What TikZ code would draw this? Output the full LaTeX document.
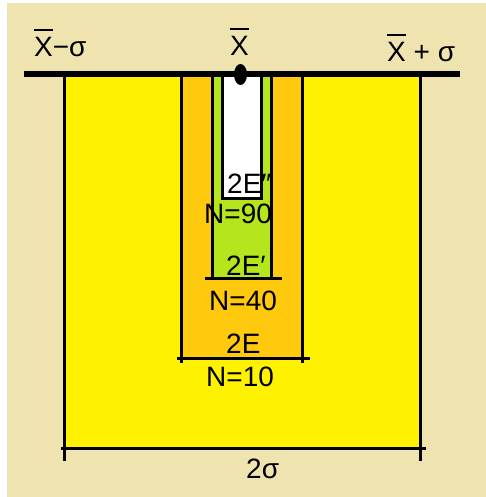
\documentclass[tikz,border=0pt]{standalone}
\usepackage{fontspec}
\setmainfont{Liberation Sans}
\definecolor{tanbg}{HTML}{EFE4B0}
\definecolor{yel}{HTML}{FFF200}
\definecolor{ora}{HTML}{FFC90E}
\definecolor{lime}{HTML}{B5E61D}
\newcommand\xbar{\leavevmode\vbox{\hrule height 2pt\kern 7pt\hbox{X}}}
\tikzset{
  lbl/.style={anchor=base west, inner sep=0pt, font=\fontsize{28}{30}\selectfont},
  edge/.style={line width=3pt, black},
  axis/.style={line width=5.5pt, black}
}
\begin{document}
\begin{tikzpicture}[x=1pt,y=-1pt]
\useasboundingbox (0,0) rectangle (486,497);
\fill[white] (0,0) rectangle (486,497);
\fill[tanbg] (7,3) rectangle (486,497);
% bands
\fill[yel] (64,74) rectangle (420,448);
\fill[ora] (181.5,74) rectangle (302.5,358);
\fill[lime] (212.5,74) rectangle (271.5,278);
\fill[white] (222.5,74) rectangle (261,198);
% yellow band edges
\draw[edge] (64,74) -- (64,461);
\draw[edge] (420,74) -- (420,461);
\draw[edge] (61,448.5) -- (426,448.5);
% orange band edges
\draw[edge] (181.5,74) -- (181.5,363);
\draw[edge] (302.5,74) -- (302.5,363);
\draw[edge] (177,358.5) -- (310,358.5);
% green band edges
\draw[edge] (212.5,74) -- (212.5,280);
\draw[edge] (271.5,74) -- (271.5,280);
\draw[edge] (205,278.5) -- (282,278.5);
% white band edges
\draw[edge] (222.5,74) -- (222.5,199.5);
\draw[edge] (261,74) -- (261,199.5);
\draw[edge] (221,198) -- (262.5,198);
% axis line and mean dot
\coordinate (axl) at (24,74);
\coordinate (axr) at (460,74);
\draw[axis] (axl) -- (axr);
\fill[black] (240.5,74.5) ellipse [x radius=6.5, y radius=10.5];
% labels
\node[lbl] (lm) at (34,57) {\xbar−σ};
\node[lbl] (lc) at (230,56) {\xbar};
\node[lbl] (lp) at (387,62) {\xbar\ + σ};
\node[lbl] (t1) at (227,193) {2E″};
\node[lbl] (n1) at (204,223) {N=90};
\node[lbl] (t2) at (226,275) {2E′};
\node[lbl] (n2) at (209,310) {N=40};
\node[lbl] (t3) at (226,353) {2E};
\node[lbl] (n3) at (206,386) {N=10};
\node[lbl] (s2) at (246,478) {2σ};
\end{tikzpicture}
\end{document}
